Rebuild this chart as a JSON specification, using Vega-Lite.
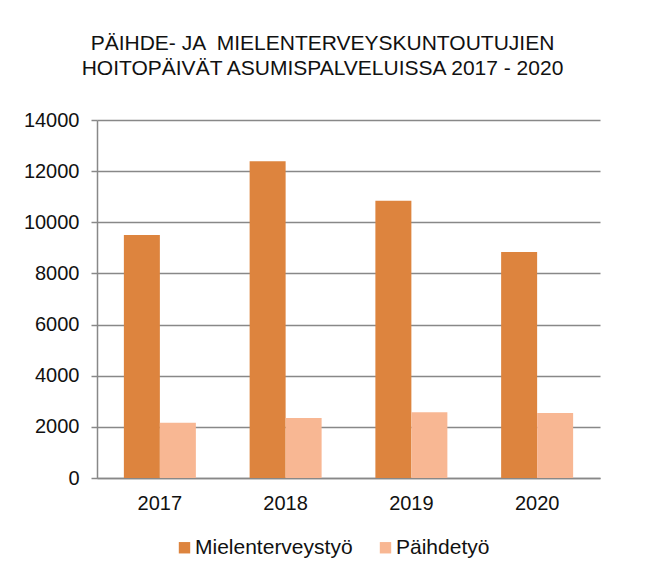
{
  "$schema": "https://vega.github.io/schema/vega-lite/v6.json",
  "autosize": "none",
  "width": 503,
  "height": 358,
  "padding": {"left": 97, "top": 120, "right": 46, "bottom": 100},
  "background": "white",
  "title": {
    "text": ["PÄIHDE- JA \u00a0MIELENTERVEYSKUNTOUTUJIEN", "HOITOPÄIVÄT ASUMISPALVELUISSA 2017 - 2020"],
    "font": "Liberation Sans",
    "fontSize": 21,
    "fontWeight": "normal",
    "color": "#111",
    "lineHeight": 25,
    "anchor": "middle",
    "frame": "group",
    "dx": -26,
    "offset": 31
  },
  "data": {
    "values": [
      {"year": "2017", "series": "Mielenterveystyö", "value": 9500},
      {"year": "2017", "series": "Päihdetyö", "value": 2160},
      {"year": "2018", "series": "Mielenterveystyö", "value": 12390},
      {"year": "2018", "series": "Päihdetyö", "value": 2350},
      {"year": "2019", "series": "Mielenterveystyö", "value": 10840},
      {"year": "2019", "series": "Päihdetyö", "value": 2570},
      {"year": "2020", "series": "Mielenterveystyö", "value": 8840},
      {"year": "2020", "series": "Päihdetyö", "value": 2545}
    ]
  },
  "mark": {"type": "bar"},
  "encoding": {
    "x": {
      "field": "year",
      "type": "nominal",
      "scale": {"paddingInner": 0.4275, "paddingOuter": 0.2137},
      "axis": {
        "title": null,
        "labelAngle": 0,
        "labelFont": "Liberation Sans",
        "labelFontSize": 20,
        "labelColor": "#111",
        "labelPadding": 15,
        "ticks": false,
        "domainColor": "#888",
        "domainWidth": 1.5
      }
    },
    "xOffset": {
      "field": "series",
      "type": "nominal",
      "sort": ["Mielenterveystyö", "Päihdetyö"]
    },
    "y": {
      "field": "value",
      "type": "quantitative",
      "scale": {"domain": [0, 14000], "nice": false},
      "axis": {
        "title": null,
        "values": [0, 2000, 4000, 6000, 8000, 10000, 12000, 14000],
        "format": "d",
        "labelFont": "Liberation Sans",
        "labelFontSize": 20,
        "labelColor": "#111",
        "labelPadding": 12,
        "tickSize": 6,
        "tickColor": "#888",
        "tickWidth": 1.5,
        "domainColor": "#888",
        "domainWidth": 1.5,
        "gridColor": "#888",
        "gridWidth": 1.5
      }
    },
    "color": {
      "field": "series",
      "type": "nominal",
      "sort": ["Mielenterveystyö", "Päihdetyö"],
      "scale": {"domain": ["Mielenterveystyö", "Päihdetyö"], "range": ["#DD843E", "#F8B793"]},
      "legend": {
        "title": null,
        "orient": "none",
        "direction": "horizontal",
        "legendX": 77,
        "legendY": 417,
        "symbolType": "square",
        "symbolSize": 130,
        "symbolStrokeWidth": 0,
        "labelFont": "Liberation Sans",
        "labelFontSize": 21,
        "labelColor": "#111",
        "labelOffset": 0,
        "columnPadding": 22
      }
    }
  },
  "config": {"view": {"stroke": null}}
}
